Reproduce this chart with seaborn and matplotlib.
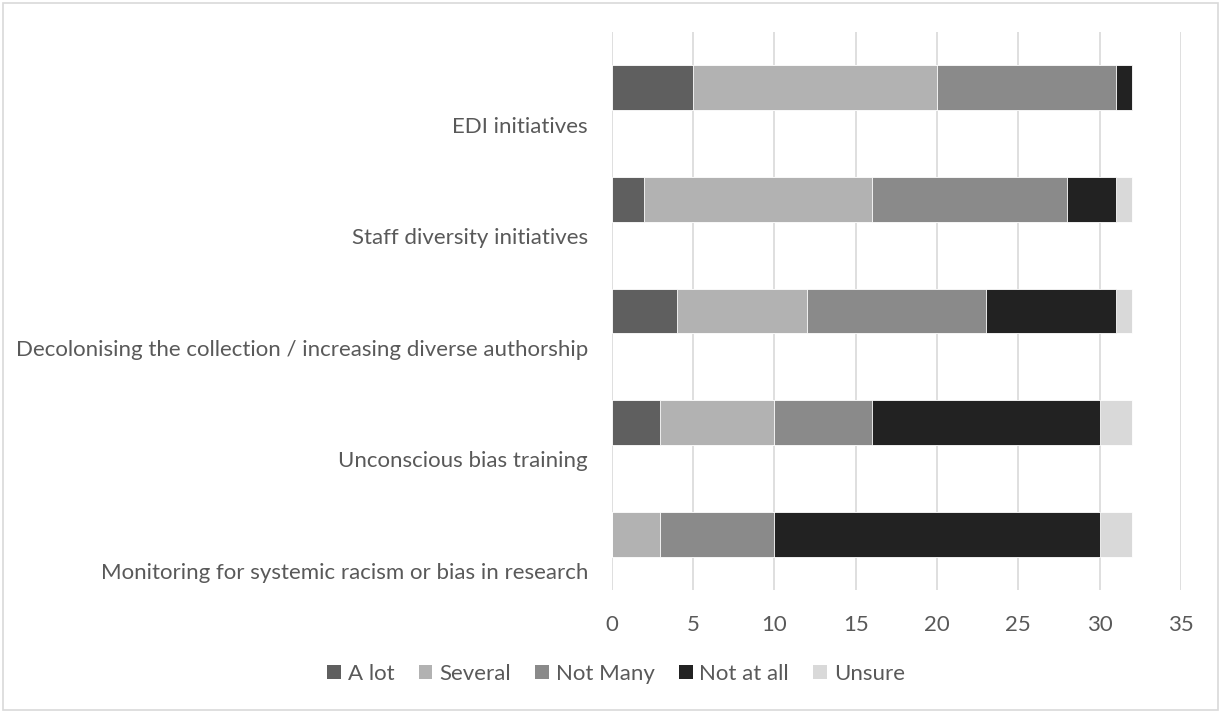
import matplotlib
matplotlib.use("Agg")
import matplotlib.pyplot as plt
from matplotlib.patches import Patch, Rectangle
import numpy as np
import pandas as pd
import seaborn as sns

# Survey responses: how many initiatives of each kind respondents reported
categories = [
    "EDI initiatives",
    "Staff diversity initiatives",
    "Decolonising the collection / increasing diverse authorship",
    "Unconscious bias training",
    "Monitoring for systemic racism or bias in research",
]
series_names = ["A lot", "Several", "Not Many", "Not at all", "Unsure"]
a_lot = [5, 2, 4, 3, 0]
several = [15, 14, 8, 7, 3]
not_many = [11, 12, 11, 6, 7]
not_at_all = [1, 3, 8, 14, 20]
unsure = [0, 1, 1, 2, 2]
x_ticks = [0, 5, 10, 15, 20, 25, 30, 35]

colors = ["#5f5f5f", "#b2b2b2", "#8a8a8a", "#222222", "#d9d9d9"]
text_color = "#595959"
grid_color = "#d9d9d9"

sns.set_theme(style="white")
plt.rcParams["font.family"] = ["Lato", "DejaVu Sans"]

df = pd.DataFrame({"category": categories})
values = [a_lot, several, not_many, not_at_all, unsure]
cum = np.cumsum(np.array(values), axis=0)
for name, c in zip(series_names, cum):
    df[name] = c

fig = plt.figure(figsize=(12.21, 7.13), dpi=100)
ax = fig.add_axes([611.7 / 1221, 1 - 590 / 713, (1181 - 611.7) / 1221, (590 - 32) / 713])

# stacked bars: draw cumulative totals from the outermost segment inwards
for name, color in reversed(list(zip(series_names, colors))):
    sns.barplot(data=df, x=name, y="category", order=categories, orient="h",
                color=color, width=0.4, errorbar=None, saturation=1,
                edgecolor="white", linewidth=0.6, ax=ax, zorder=3)

ax.set_xlim(0, 35)
ax.set_ylim(4.5, -0.5)
ax.set_xticks(x_ticks)
ax.set_xticklabels([str(t) for t in x_ticks])
ax.set_yticks([i + 0.33 for i in range(len(categories))])
ax.set_yticklabels(categories)
ax.set_xlabel("")
ax.set_ylabel("")
ax.tick_params(axis="x", length=0, pad=18, labelsize=16, labelcolor=text_color)
ax.tick_params(axis="y", length=0, pad=17, labelsize=16, labelcolor=text_color)
ax.grid(axis="x", color=grid_color, linewidth=1.2, zorder=0)
ax.grid(axis="y", visible=False)
for s in ax.spines.values():
    s.set_visible(False)

handles = [Patch(facecolor=c, edgecolor="none", label=n) for n, c in zip(series_names, colors)]
fig.legend(handles=handles, loc="center", bbox_to_anchor=(616 / 1221, 1 - 674 / 713),
           ncol=5, frameon=False, fontsize=16, labelcolor=text_color,
           handlelength=0.62, handleheight=0.62, handletextpad=0.3, columnspacing=1.1)

fig.patches.append(Rectangle((3 / 1221, 3 / 713), 1215 / 1221, 707 / 713,
                             transform=fig.transFigure, fill=False,
                             edgecolor=grid_color, linewidth=1.2))

fig.savefig("out.png", dpi=100, facecolor="white")
